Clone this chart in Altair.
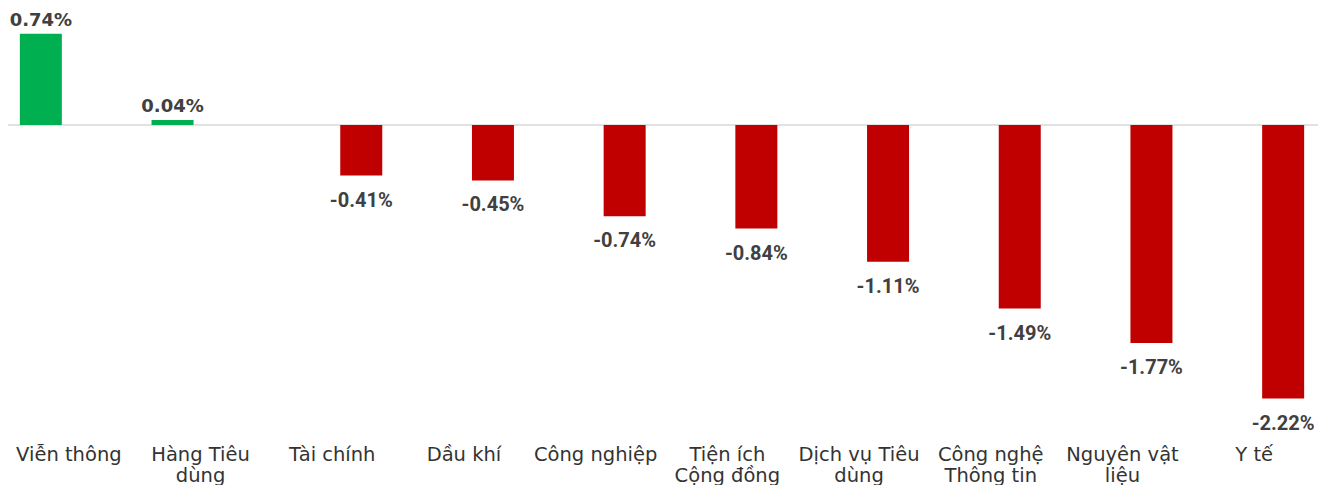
import altair as alt
import pandas as pd

categories = ["Viễn thông", "Hàng Tiêu\ndùng", "Tài chính", "Dầu khí", "Công nghiệp",
              "Tiện ích\nCộng đồng", "Dịch vụ Tiêu\ndùng", "Công nghệ\nThông tin",
              "Nguyên vật\nliệu", "Y tế"]
values = [0.74, 0.04, -0.41, -0.45, -0.74, -0.84, -1.11, -1.49, -1.77, -2.22]
labels = ["0.74%", "0.04%", "-0.41%", "-0.45%", "-0.74%", "-0.84%", "-1.11%", "-1.49%", "-1.77%", "-2.22%"]

df = pd.DataFrame({"cat": categories, "val": values, "lab": labels})

W = 1310
H = 425
xscale = alt.Scale(domain=categories, range=[-5, 1312], paddingInner=0, paddingOuter=0, round=False)
yscale = alt.Scale(domain=[-2.5, 0.95], nice=False, zero=False)

xenc = alt.X("cat:N", scale=xscale, sort=categories, title=None,
             axis=alt.Axis(domain=False, ticks=False, grid=False, labelAngle=0,
                           labelExpr="split(datum.label, '\\n')",
                           labelFont="DejaVu Sans", labelFontSize=19.5, labelColor="#333333",
                           labelLineHeight=21, labelPadding=12, labelLimit=200))
yenc = alt.Y("val:Q", scale=yscale, axis=None)

base = alt.Chart(df)

pos_bar = base.transform_filter("datum.val >= 0").mark_bar(
    color="#00b050", width=42, xOffset=-28).encode(x=xenc, y=yenc, y2=alt.datum(0))
neg_bar = base.transform_filter("datum.val < 0").mark_bar(
    color="#c00000", width=42, xOffset=29).encode(x=xenc, y=yenc, y2=alt.datum(0))

zero_rule = alt.Chart(pd.DataFrame({"z": [0]})).mark_rule(
    color="#d9d9d9", strokeWidth=1.5).encode(y=alt.Y("z:Q", scale=yscale, axis=None))

pos_txt = base.transform_filter("datum.val >= 0").mark_text(
    font="DejaVu Sans", fontWeight="bold", fontSize=18, color="#404040",
    baseline="alphabetic", dy=-8, xOffset=-28).encode(x=xenc, y=yenc, text="lab:N")
neg_txt = base.transform_filter("datum.val < 0").mark_text(
    font="Roboto", fontWeight="bold", fontSize=20, color="#404040",
    baseline="alphabetic", dy=31, xOffset=29).encode(x=xenc, y=yenc, text="lab:N")

chart = alt.layer(zero_rule, pos_bar, neg_bar, pos_txt, neg_txt).properties(
    width=W, height=H,
    padding={"left": 0, "top": 0, "right": 0, "bottom": 52},
    autosize=alt.AutoSizeParams(type="none"),
    background="white"
).configure_view(strokeWidth=0)

chart.save("out.html", embed_options={"renderer": "svg", "actions": False})
